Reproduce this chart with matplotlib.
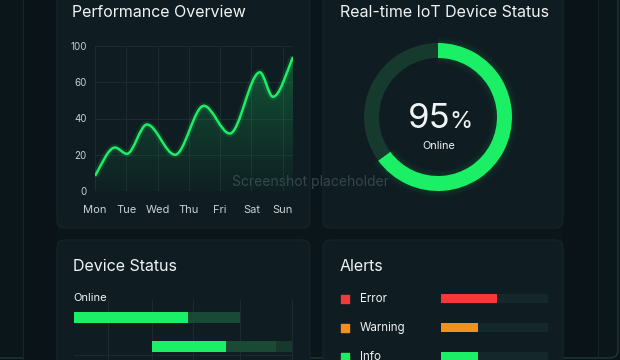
import numpy as np
import matplotlib.pyplot as plt
from matplotlib.patches import FancyBboxPatch, Rectangle, PathPatch
from matplotlib.path import Path

plt.rcParams['font.family'] = ['Inter', 'DejaVu Sans']

W, H = 620, 360

# --- data ---
days = ['Mon', 'Tue', 'Wed', 'Thu', 'Fri', 'Sat', 'Sun']
perf_x = [0, 0.64, 1.02, 1.66, 2.56, 3.48, 4.31, 5.27, 5.69, 6.33]
perf_y = [8.3, 24, 20.5, 36.7, 20, 47, 31.7, 65.5, 52, 74]
y_ticks = [0, 20, 40, 60, 80]
y_tick_labels = ['0', '20', '40', '60', '100']

online_text = '95'
ring_parts = [65, 35]

status_start = [0, 35.8]
status_active = [52.3, 33.9]
status_idle = [23.8, 23.0]
status_rest = [0, 7.3]
status_grid = [15.6, 35.8, 54.6, 76.1, 100]

alert_names = ['Error', 'Warning', 'Info']
alert_values = [52, 35, 35]

# --- colours ---
BG = '#0b161a'
BAND = '#0a1317'
PANEL = '#0f1c21'
PANEL_EDGE = '#17262b'
GREEN = '#1aef66'
RING_DARK = '#173a2f'
BAR_DARK = '#1a4a36'
BAR_DARKER = '#153a2d'
TRACK = '#14272a'
GRID = '#1d2c31'
WHITE = '#f0f4f5'
TICK = '#c9d1d4'
alert_colors = ['#f23a3a', '#f0901e', GREEN]


def box(x0, y0, x1, y1):
    return [x0 / W, 1 - y1 / H, (x1 - x0) / W, (y1 - y0) / H]


fig = plt.figure(figsize=(6.2, 3.6), dpi=100)
fig.patch.set_facecolor(BAND)

bg = fig.add_axes([0, 0, 1, 1])
bg.set_xlim(0, W)
bg.set_ylim(H, 0)
bg.axis('off')

bg.add_patch(FancyBboxPatch((-10, -10), 628, 368, boxstyle='round,pad=0,rounding_size=8',
                            fc=BG, ec='#1c3a33', lw=1))
bg.add_patch(Rectangle((23, -1), 34, 362, fc=BAND, ec='none'))
bg.add_patch(Rectangle((563, -1), 35, 358, fc=BAND, ec='none'))
bg.plot([23, 23], [0, 360], color='#15252a', lw=0.8)
bg.plot([598, 598], [0, 357], color='#15252a', lw=0.8)

for x0, y0, x1, y1 in [(57, -12, 310, 228), (323, -12, 563, 228),
                       (57, 240, 310, 372), (323, 240, 563, 372)]:
    bg.add_patch(FancyBboxPatch((x0, y0), x1 - x0, y1 - y0,
                                boxstyle='round,pad=0,rounding_size=8',
                                fc=PANEL, ec=PANEL_EDGE, lw=0.8))

# titles
bg.text(72, 17, 'Performance Overview', color=WHITE, fontsize=11.5, va='baseline')
bg.text(444, 17, 'Real-time IoT Device Status', color=WHITE, fontsize=11.5,
        va='baseline', ha='center')
bg.text(73, 271, 'Device Status', color=WHITE, fontsize=11.5, va='baseline')
bg.text(340, 271, 'Alerts', color=WHITE, fontsize=11.5, va='baseline')

# --- performance line chart ---
ax = fig.add_axes(box(95, 46, 293, 191))
ax.patch.set_visible(False)
ax.set_xlim(0, 6.33)
ax.set_ylim(0, 80)
for s in ax.spines.values():
    s.set_visible(False)
ax.set_yticks(y_ticks)
ax.set_yticklabels(y_tick_labels)
ax.set_xticks(range(len(days)))
ax.set_xticklabels(days)
ax.tick_params(length=0, colors=TICK)
ax.tick_params(axis='y', labelsize=7, pad=6)
ax.tick_params(axis='x', labelsize=8, pad=10)
ax.grid(True, color=GRID, lw=0.7)

xs, ys = np.asarray(perf_x), np.asarray(perf_y)
m = np.zeros(len(xs))
m[0] = (ys[1] - ys[0]) / (xs[1] - xs[0]) * 1.2
m[-1] = (ys[-1] - ys[-2]) / (xs[-1] - xs[-2]) * 1.2
verts = [(xs[0], ys[0])]
codes = [Path.MOVETO]
for i in range(len(xs) - 1):
    d = (xs[i + 1] - xs[i]) / 3
    verts += [(xs[i] + d, ys[i] + m[i] * d), (xs[i + 1] - d, ys[i + 1] - m[i + 1] * d),
              (xs[i + 1], ys[i + 1])]
    codes += [Path.CURVE4] * 3
line_path = Path(verts, codes)
fill_path = Path(verts + [(xs[-1], 0), (xs[0], 0), (xs[0], ys[0])],
                 codes + [Path.LINETO, Path.LINETO, Path.CLOSEPOLY])

clip = PathPatch(fill_path, fc='none', ec='none', transform=ax.transData)
ax.add_patch(clip)
grad = np.zeros((100, 2, 4))
grad[..., 0], grad[..., 1], grad[..., 2] = 0.1, 0.85, 0.4
grad[..., 3] = np.linspace(0.32, 0.02, 100)[:, None]
im = ax.imshow(grad, extent=[0, 6.33, 0, 80], origin='upper', aspect='auto', zorder=2)
im.set_clip_path(clip)
ax.add_patch(PathPatch(line_path, fc='none', ec=GREEN, lw=5, alpha=0.12, zorder=3))
ax.add_patch(PathPatch(line_path, fc='none', ec=GREEN, lw=1.8, zorder=4))

# --- donut ---
dax = fig.add_axes(box(358, 37, 518, 197))
dax.patch.set_visible(False)
for k, a in enumerate([0.03, 0.03, 0.04]):
    dax.pie(ring_parts, colors=[GREEN, 'none'], startangle=90, counterclock=False,
            radius=(74 + 6 - 2 * k) / 80,
            wedgeprops=dict(width=(27 - 4 * k) / 80, edgecolor='none', alpha=a))
dax.pie(ring_parts, colors=[GREEN, RING_DARK], startangle=90, counterclock=False,
        radius=74 / 80, wedgeprops=dict(width=15 / 80, edgecolor='none'))
dax.set_xlim(-1, 1)
dax.set_ylim(-1, 1)

bg.text(451, 128, online_text, color=WHITE, fontsize=25, ha='right', va='baseline')
bg.text(449, 128, '%', color=WHITE, fontsize=17, ha='left', va='baseline')
bg.text(439, 149, 'Online', color=WHITE, fontsize=7.8, ha='center', va='baseline')

bg.text(310, 186, 'Screenshot placeholder', color='#34454f', fontsize=10,
        ha='center', va='baseline', zorder=10)

# --- device status bars ---
sax = fig.add_axes(box(74, 300, 292, 360))
sax.patch.set_visible(False)
sax.axis('off')
sax.set_xlim(0, 100)
sax.set_ylim(1.466, -0.603)
rows = np.arange(len(status_active))
starts = np.asarray(status_start)
act = np.asarray(status_active)
idle = np.asarray(status_idle)
for gx in status_grid:
    sax.axvline(gx, color=GRID, lw=0.7, zorder=0, clip_on=False)
sax.axhline(1.3, color=GRID, lw=0.7, zorder=0)
sax.barh(rows, act, left=starts, height=0.38, color=GREEN, zorder=3)
sax.barh(rows, idle, left=starts + act, height=0.38, color=BAR_DARK, zorder=3)
sax.barh(rows, status_rest, left=starts + act + idle, height=0.38, color=BAR_DARKER, zorder=3)
bg.text(73, 301, 'Online', color=WHITE, fontsize=8, va='baseline')

# --- alerts ---
aax = fig.add_axes(box(441, 285, 548, 365))
aax.patch.set_visible(False)
aax.axis('off')
aax.set_xlim(0, 100)
arows = np.arange(len(alert_values))
aax.set_ylim(2.293, -0.466)
aax.barh(arows, 100, height=0.31, color=TRACK)
aax.barh(arows, alert_values, height=0.31, color=alert_colors)
tr = aax.get_yaxis_transform()
for r, name, c in zip(arows, alert_names, alert_colors):
    aax.scatter(-0.897, r, marker='s', s=40, color=c, transform=tr, clip_on=False)
    aax.text(-0.757, r, name, color=WHITE, fontsize=8.3, va='center', transform=tr)

fig.savefig('out.png', dpi=100, facecolor=fig.get_facecolor())
